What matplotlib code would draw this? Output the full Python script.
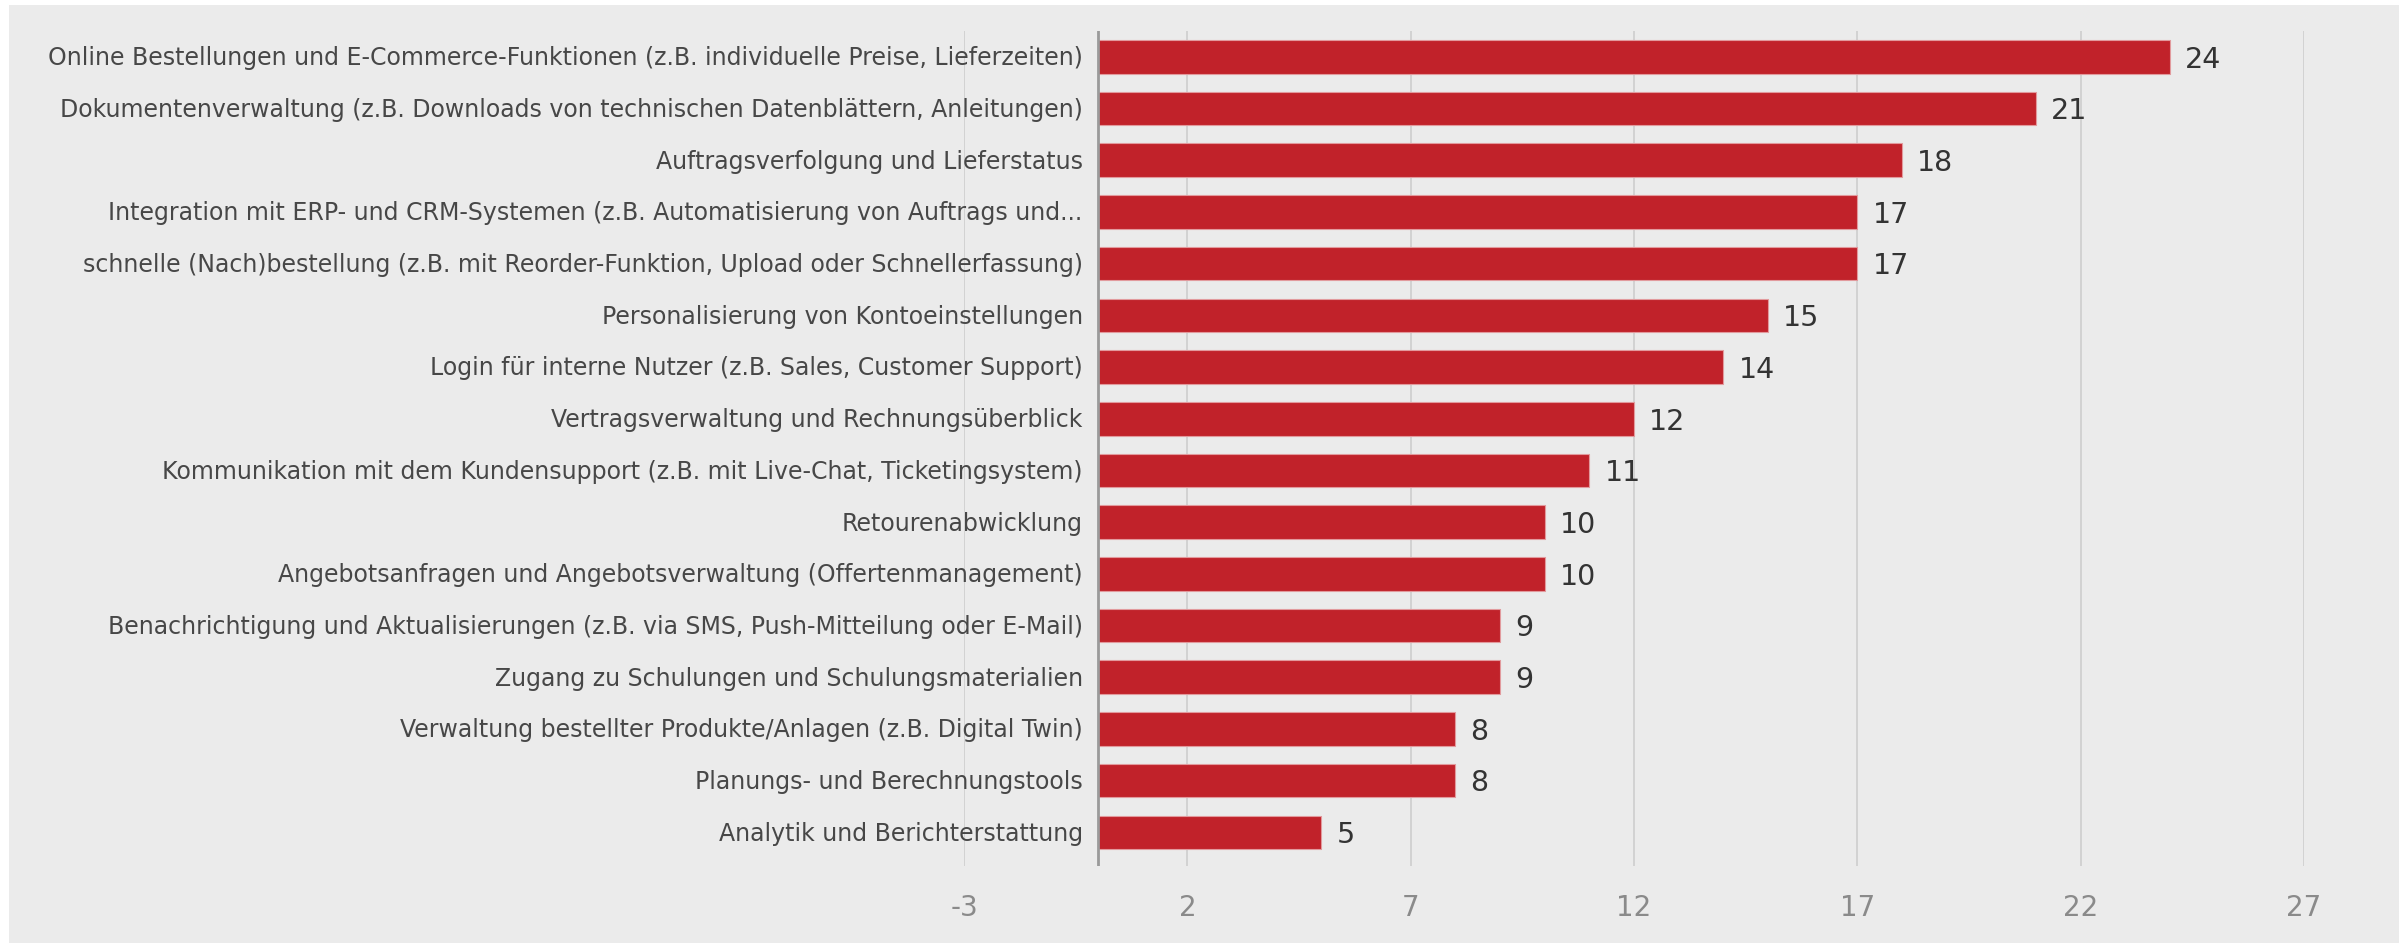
import matplotlib
matplotlib.use("Agg")
import matplotlib.pyplot as plt
from matplotlib.patches import Rectangle

categories = [
    "Online Bestellungen und E-Commerce-Funktionen (z.B. individuelle Preise, Lieferzeiten)",
    "Dokumentenverwaltung (z.B. Downloads von technischen Datenblättern, Anleitungen)",
    "Auftragsverfolgung und Lieferstatus",
    "Integration mit ERP- und CRM-Systemen (z.B. Automatisierung von Auftrags und...",
    "schnelle (Nach)bestellung (z.B. mit Reorder-Funktion, Upload oder Schnellerfassung)",
    "Personalisierung von Kontoeinstellungen",
    "Login für interne Nutzer (z.B. Sales, Customer Support)",
    "Vertragsverwaltung und Rechnungsüberblick",
    "Kommunikation mit dem Kundensupport (z.B. mit Live-Chat, Ticketingsystem)",
    "Retourenabwicklung",
    "Angebotsanfragen und Angebotsverwaltung (Offertenmanagement)",
    "Benachrichtigung und Aktualisierungen (z.B. via SMS, Push-Mitteilung oder E-Mail)",
    "Zugang zu Schulungen und Schulungsmaterialien",
    "Verwaltung bestellter Produkte/Anlagen (z.B. Digital Twin)",
    "Planungs- und Berechnungstools",
    "Analytik und Berichterstattung",
]
values = [24, 21, 18, 17, 17, 15, 14, 12, 11, 10, 10, 9, 9, 8, 8, 5]
x_ticks = [-3, 2, 7, 12, 17, 22, 27]

W, H = 2399, 943
fig = plt.figure(figsize=(W / 100, H / 100), dpi=100, facecolor="white")
bg = "#ebebeb"
fig.patches.append(Rectangle((9 / W, 0), 1 - 9 / W, 1 - 5 / H, transform=fig.transFigure,
                             facecolor=bg, edgecolor="none", zorder=-10))

left, right = 964 / W, 2304 / W
top, bottom = 1 - 31 / H, 1 - 866 / H
ax = fig.add_axes([left, bottom, right - left, top - bottom])
ax.set_facecolor("none")

y = list(range(len(categories)))
ax.barh(y, values, height=0.65, color="#c1222a", edgecolor="#e29a9d", linewidth=0.8, zorder=3)

ax.set_xlim(x_ticks[0], x_ticks[-1])
ax.set_ylim(15.65, -0.5)
ax.set_xticks(x_ticks)
ax.set_xticklabels([str(t) for t in x_ticks], fontsize=20, color="#8a8a8a", family="DejaVu Sans")
ax.tick_params(axis="x", length=0, pad=20)
ax.set_yticks(y)
ax.set_yticklabels([])
for s in ax.spines.values():
    s.set_visible(False)
ax.grid(axis="x", color="#d2d2d2", linewidth=1.4, zorder=0)
ax.tick_params(axis="y", length=0)
ax.axvline(0, color="#9a9a9a", linewidth=2, zorder=4)

for yi, cat in zip(y, categories):
    ax.annotate(cat, xy=(0, yi), xytext=(-11, -1), textcoords="offset points",
                ha="right", va="center", fontsize=17, color="#474747", zorder=5)

for yi, v in zip(y, values):
    ax.annotate(str(v), xy=(v, yi), xytext=(11, -2), textcoords="offset points",
                ha="left", va="center", fontsize=20.5, color="#333333",
                family="DejaVu Sans", zorder=5)

fig.savefig("out.png", dpi=100, facecolor=fig.get_facecolor())
